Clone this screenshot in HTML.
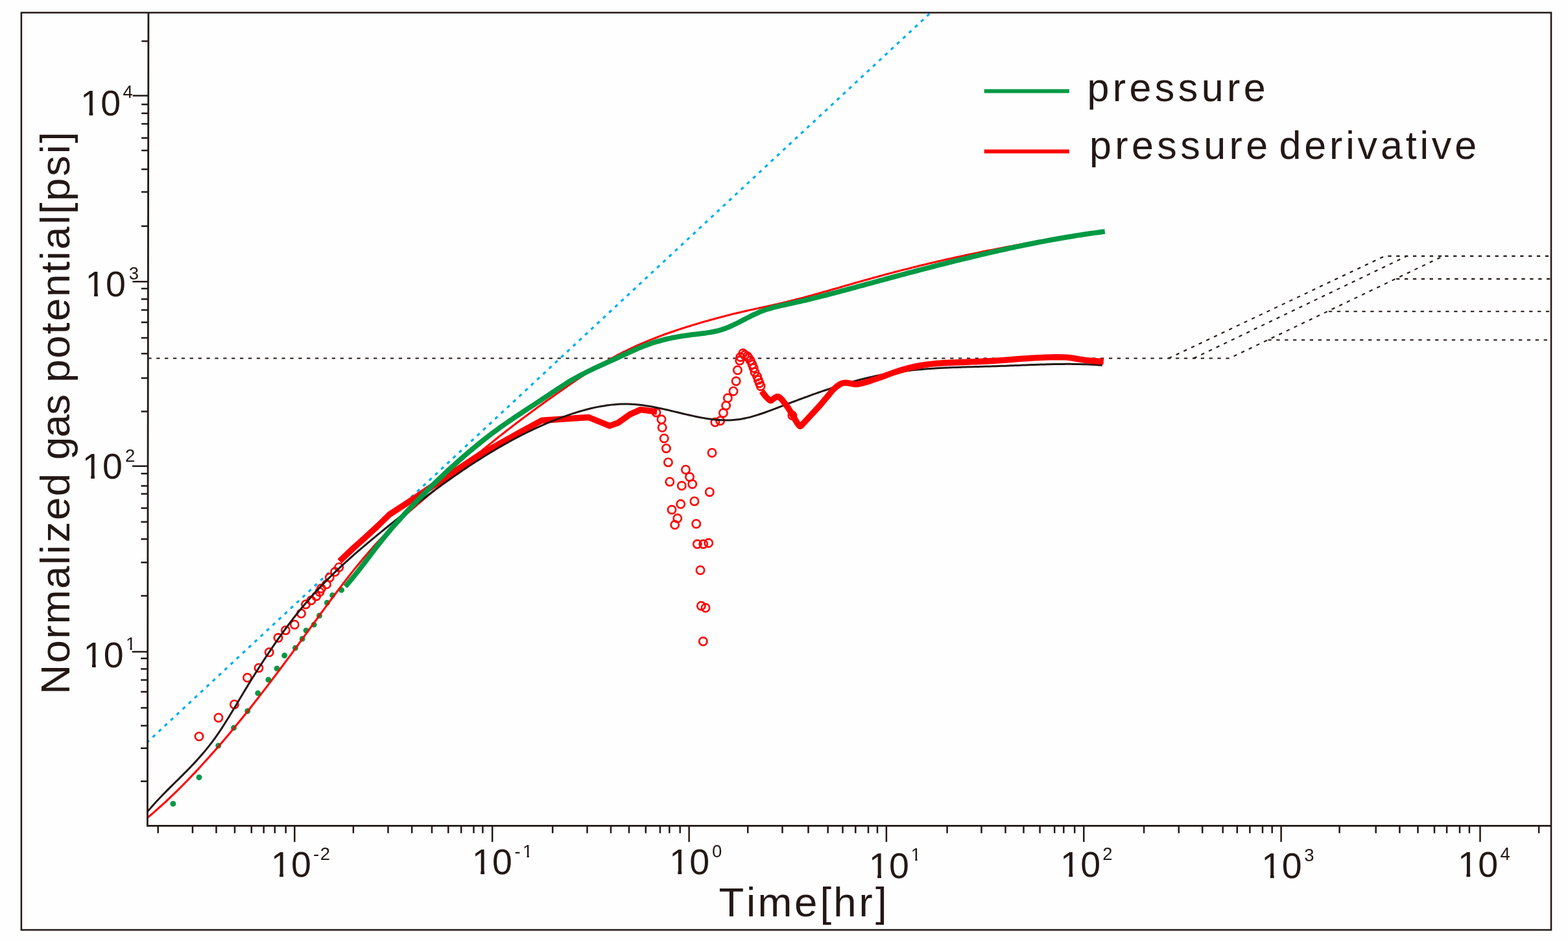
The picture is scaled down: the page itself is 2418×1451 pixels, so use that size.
<!DOCTYPE html>
<html lang="en">
<head>
<meta charset="utf-8">
<title>Normalized gas potential vs Time - pressure and pressure derivative</title>
<style>
html,body{margin:0;padding:0;background:#fefefe;}
body{width:2418px;height:1451px;overflow:hidden;}
svg{display:block;}
text{white-space:pre;}
</style>
</head>
<body>
<svg width="2418" height="1451" viewBox="0 0 2418 1451">
<rect x="0" y="0" width="2418" height="1451" fill="#fefefe"/>
<g fill="none" stroke="#00aeef" stroke-width="3.3" stroke-dasharray="5.2 7.448">
<path d="M227.3 1144.3 L518 873.11" stroke-dashoffset="1.55"/>
<path d="M631 769.53 L1434.2 20.39" stroke-dashoffset="-4.1"/>
</g>
<g fill="none" stroke="#231815" stroke-width="2.1" stroke-dasharray="5.3 7.584">
<path d="M228.3 552.5 H1895.9 L2225.4 394.9 H2388" stroke-dashoffset="0"/>
<path d="M1802.1 552.5 L2135.3 394.9 H2225" stroke-dashoffset="0"/>
<path d="M1840.8 552.5 L2169.5 394.9" stroke-dashoffset="0"/>
<path d="M2153.1 430.1 H2391" stroke-dashoffset="0"/>
<path d="M2048.9 480.2 H2391" stroke-dashoffset="0"/>
<path d="M1955.4 524.3 H2391" stroke-dashoffset="0"/>
</g>
<g fill="#009944">
<circle cx="266.9" cy="1239.4" r="4.45"/>
<circle cx="307" cy="1198.7" r="4.45"/>
<circle cx="336.7" cy="1149.9" r="4.45"/>
<circle cx="360.5" cy="1122.3" r="4.45"/>
<circle cx="381.7" cy="1096.5" r="4.45"/>
<circle cx="397.7" cy="1068.9" r="4.45"/>
<circle cx="413.9" cy="1048.2" r="4.45"/>
<circle cx="427" cy="1030.9" r="4.45"/>
<circle cx="438.7" cy="1010.8" r="4.45"/>
<circle cx="455.4" cy="999.2" r="4.45"/>
<circle cx="466.2" cy="985" r="4.45"/>
<circle cx="472" cy="972.1" r="4.45"/>
<circle cx="484.2" cy="963.2" r="4.45"/>
<circle cx="492.5" cy="949.3" r="4.45"/>
<circle cx="504.4" cy="929.5" r="4.45"/>
<circle cx="512.7" cy="917.9" r="4.45"/>
<circle cx="526.6" cy="909.8" r="4.45"/>
</g>
<g fill="none" stroke="#ff0000" stroke-width="2.6">
<circle cx="307" cy="1135.6" r="6.15"/>
<circle cx="336.9" cy="1106.7" r="6.15"/>
<circle cx="361.4" cy="1086.2" r="6.15"/>
<circle cx="381.5" cy="1045" r="6.15"/>
<circle cx="399" cy="1029.9" r="6.15"/>
<circle cx="415.2" cy="1005.8" r="6.15"/>
<circle cx="429" cy="983.5" r="6.15"/>
<circle cx="440.4" cy="971.9" r="6.15"/>
<circle cx="454.3" cy="963.2" r="6.15"/>
<circle cx="464.5" cy="946.1" r="6.15"/>
<circle cx="471.5" cy="932" r="6.15"/>
<circle cx="479.9" cy="925.8" r="6.15"/>
<circle cx="487.7" cy="919.4" r="6.15"/>
<circle cx="492.9" cy="912.7" r="6.15"/>
<circle cx="495.4" cy="907.5" r="6.15"/>
<circle cx="503.5" cy="901.1" r="6.15"/>
<circle cx="508.3" cy="890.5" r="6.15"/>
<circle cx="516.6" cy="881.8" r="6.15"/>
<circle cx="522.8" cy="874.7" r="6.15"/>
<circle cx="1012" cy="636" r="6.15"/>
<circle cx="1020" cy="646.8" r="6.15"/>
<circle cx="1021.2" cy="659.2" r="6.15"/>
<circle cx="1024.2" cy="676" r="6.15"/>
<circle cx="1027.4" cy="691.4" r="6.15"/>
<circle cx="1030.4" cy="712.9" r="6.15"/>
<circle cx="1032.8" cy="742.9" r="6.15"/>
<circle cx="1036" cy="786" r="6.15"/>
<circle cx="1044.7" cy="799.3" r="6.15"/>
<circle cx="1040.7" cy="809.3" r="6.15"/>
<circle cx="1049.7" cy="777.3" r="6.15"/>
<circle cx="1051.3" cy="749" r="6.15"/>
<circle cx="1057.4" cy="724.2" r="6.15"/>
<circle cx="1063.5" cy="735.5" r="6.15"/>
<circle cx="1067.7" cy="746.5" r="6.15"/>
<circle cx="1070.9" cy="772.9" r="6.15"/>
<circle cx="1073.7" cy="807.7" r="6.15"/>
<circle cx="1075.3" cy="839" r="6.15"/>
<circle cx="1084.7" cy="839" r="6.15"/>
<circle cx="1092.7" cy="837.3" r="6.15"/>
<circle cx="1080" cy="879.3" r="6.15"/>
<circle cx="1081.3" cy="934.3" r="6.15"/>
<circle cx="1088" cy="937.3" r="6.15"/>
<circle cx="1084.3" cy="989" r="6.15"/>
<circle cx="1094.3" cy="758.7" r="6.15"/>
<circle cx="1098" cy="698.2" r="6.15"/>
<circle cx="1102.8" cy="651.1" r="6.15"/>
<circle cx="1110.6" cy="648.9" r="6.15"/>
<circle cx="1115.4" cy="636.8" r="6.15"/>
<circle cx="1119.6" cy="625.4" r="6.15"/>
<circle cx="1122.3" cy="613.8" r="6.15"/>
<circle cx="1131" cy="603.2" r="6.15"/>
<circle cx="1135.1" cy="587.8" r="6.15"/>
<circle cx="1137.4" cy="570.8" r="6.15"/>
<circle cx="1140.8" cy="556" r="6.15"/>
<circle cx="1141.8" cy="550.6" r="6.15"/>
<circle cx="1145.7" cy="544.8" r="6.15"/>
<circle cx="1148.6" cy="547.3" r="6.15"/>
<circle cx="1152.4" cy="549.2" r="6.15"/>
<circle cx="1154.3" cy="551.7" r="6.15"/>
<circle cx="1157.2" cy="556" r="6.15"/>
<circle cx="1160.1" cy="562.1" r="6.15"/>
<circle cx="1162.1" cy="567.5" r="6.15"/>
<circle cx="1164" cy="573.9" r="6.15"/>
<circle cx="1167.5" cy="580.6" r="6.15"/>
<circle cx="1169.4" cy="585.9" r="6.15"/>
<circle cx="1171.3" cy="590.7" r="6.15"/>
<circle cx="1173.1" cy="595.5" r="6.15"/>
<circle cx="1221.9" cy="640.8" r="6.15"/>
</g>
<path d="M227.3 1261.04 C228.13 1260.34 230.63 1258.26 232.29 1256.84 C233.96 1255.43 235.62 1254.01 237.28 1252.57 C238.95 1251.12 240.61 1249.67 242.28 1248.2 C243.94 1246.73 245.6 1245.25 247.27 1243.75 C248.93 1242.26 250.6 1240.74 252.26 1239.22 C253.93 1237.7 255.59 1236.16 257.25 1234.61 C258.92 1233.05 260.58 1231.49 262.25 1229.91 C263.91 1228.33 265.57 1226.74 267.24 1225.14 C268.9 1223.53 270.57 1221.92 272.23 1220.29 C273.89 1218.66 275.56 1217.01 277.22 1215.36 C278.89 1213.7 280.55 1212.03 282.21 1210.35 C283.88 1208.67 285.54 1206.98 287.21 1205.28 C288.87 1203.57 290.53 1201.85 292.2 1200.13 C293.86 1198.4 295.53 1196.66 297.19 1194.9 C298.85 1193.15 300.52 1191.39 302.18 1189.61 C303.85 1187.84 305.51 1186.05 307.18 1184.25 C308.84 1182.45 310.5 1180.64 312.17 1178.82 C313.83 1177 315.5 1175.17 317.16 1173.33 C318.82 1171.49 320.49 1169.63 322.15 1167.77 C323.82 1165.91 325.48 1164.03 327.14 1162.15 C328.81 1160.26 330.47 1158.37 332.14 1156.46 C333.8 1154.56 335.46 1152.64 337.13 1150.72 C338.79 1148.79 340.46 1146.86 342.12 1144.91 C343.78 1142.97 345.45 1141.01 347.11 1139.05 C348.78 1137.08 350.44 1135.11 352.11 1133.13 C353.77 1131.15 355.43 1129.15 357.1 1127.15 C358.76 1125.15 360.43 1123.14 362.09 1121.12 C363.75 1119.1 365.42 1117.08 367.08 1115.04 C368.75 1113 370.41 1110.96 372.07 1108.9 C373.74 1106.85 375.4 1104.79 377.07 1102.72 C378.73 1100.65 380.39 1098.57 382.06 1096.49 C383.72 1094.4 385.39 1092.31 387.05 1090.2 C388.71 1088.1 390.38 1085.99 392.04 1083.88 C393.71 1081.76 395.37 1079.63 397.03 1077.5 C398.7 1075.37 400.36 1073.23 402.03 1071.09 C403.69 1068.94 405.36 1066.79 407.02 1064.63 C408.68 1062.47 410.35 1060.3 412.01 1058.13 C413.68 1055.95 415.34 1053.77 417 1051.59 C418.67 1049.4 420.33 1047.21 422 1045.01 C423.66 1042.81 425.32 1040.6 426.99 1038.39 C428.65 1036.18 430.32 1033.96 431.98 1031.74 C433.64 1029.52 435.31 1027.29 436.97 1025.05 C438.64 1022.82 440.3 1020.58 441.96 1018.33 C443.63 1016.09 445.29 1013.84 446.96 1011.58 C448.62 1009.33 450.29 1007.07 451.95 1004.8 C453.61 1002.54 455.28 1000.26 456.94 997.99 C458.61 995.71 460.27 993.43 461.93 991.15 C463.6 988.87 465.26 986.58 466.93 984.3 C468.59 982.01 470.25 979.72 471.92 977.42 C473.58 975.13 475.25 972.84 476.91 970.55 C478.57 968.26 480.24 965.96 481.9 963.67 C483.57 961.38 485.23 959.09 486.89 956.8 C488.56 954.51 490.22 952.23 491.89 949.95 C493.55 947.66 495.21 945.39 496.88 943.11 C498.54 940.84 500.21 938.57 501.87 936.3 C503.54 934.04 505.2 931.78 506.86 929.53 C508.53 927.28 510.19 925.04 511.86 922.8 C513.52 920.56 515.18 918.33 516.85 916.12 C518.51 913.9 520.18 911.69 521.84 909.49 C523.5 907.29 525.17 905.1 526.83 902.92 C528.5 900.74 530.16 898.57 531.82 896.42 C533.49 894.26 535.15 892.12 536.82 889.99 C538.48 887.86 540.14 885.75 541.81 883.65 C543.47 881.55 545.14 879.46 546.8 877.39 C548.47 875.32 550.13 873.27 551.79 871.23 C553.46 869.2 555.12 867.18 556.79 865.17 C558.45 863.17 560.11 861.19 561.78 859.22 C563.44 857.26 565.11 855.31 566.77 853.39 C568.43 851.47 570.1 849.56 571.76 847.68 C573.43 845.8 575.09 843.93 576.75 842.1 C578.42 840.26 580.08 838.44 581.75 836.65 C583.41 834.86 585.07 833.09 586.74 831.34 C588.4 829.59 590.07 827.86 591.73 826.16 C593.39 824.45 595.06 822.77 596.72 821.1 C598.39 819.43 600.05 817.79 601.72 816.16 C603.38 814.53 605.04 812.91 606.71 811.32 C608.37 809.72 610.04 808.14 611.7 806.58 C613.36 805.02 615.03 803.47 616.69 801.93 C618.36 800.4 620.02 798.88 621.68 797.37 C623.35 795.86 625.01 794.36 626.68 792.88 C628.34 791.4 630 789.92 631.67 788.46 C633.33 787 635 785.54 636.66 784.1 C638.32 782.65 639.99 781.22 641.65 779.79 C643.32 778.36 644.98 776.94 646.65 775.53 C648.31 774.11 649.97 772.71 651.64 771.3 C653.3 769.9 654.97 768.5 656.63 767.11 C658.29 765.71 659.96 764.32 661.62 762.93 C663.29 761.54 664.95 760.16 666.61 758.77 C668.28 757.38 669.94 756 671.61 754.61 C673.27 753.23 674.93 751.84 676.6 750.46 C678.26 749.07 679.93 747.68 681.59 746.29 C683.25 744.9 684.92 743.51 686.58 742.11 C688.25 740.72 689.91 739.32 691.57 737.92 C693.24 736.52 694.9 735.12 696.57 733.72 C698.23 732.32 699.9 730.92 701.56 729.52 C703.22 728.12 704.89 726.72 706.55 725.32 C708.22 723.92 709.88 722.51 711.54 721.11 C713.21 719.71 714.87 718.31 716.54 716.92 C718.2 715.52 719.86 714.12 721.53 712.72 C723.19 711.33 724.86 709.93 726.52 708.54 C728.18 707.15 729.85 705.76 731.51 704.37 C733.18 702.99 734.84 701.6 736.5 700.22 C738.17 698.84 739.83 697.46 741.5 696.09 C743.16 694.71 744.83 693.34 746.49 691.98 C748.15 690.61 749.82 689.25 751.48 687.89 C753.15 686.53 754.81 685.18 756.47 683.83 C758.14 682.48 759.8 681.14 761.47 679.81 C763.13 678.47 764.79 677.14 766.46 675.81 C768.12 674.49 769.79 673.17 771.45 671.85 C773.11 670.54 774.78 669.23 776.44 667.92 C778.11 666.62 779.77 665.32 781.43 664.02 C783.1 662.73 784.76 661.44 786.43 660.16 C788.09 658.87 789.75 657.59 791.42 656.32 C793.08 655.04 794.75 653.77 796.41 652.51 C798.08 651.24 799.74 649.98 801.4 648.73 C803.07 647.47 804.73 646.22 806.4 644.97 C808.06 643.72 809.72 642.48 811.39 641.24 C813.05 640 814.72 638.76 816.38 637.53 C818.04 636.3 819.71 635.08 821.37 633.85 C823.04 632.63 824.7 631.41 826.36 630.19 C828.03 628.98 829.69 627.77 831.36 626.56 C833.02 625.35 834.68 624.14 836.35 622.94 C838.01 621.74 839.68 620.54 841.34 619.35 C843.01 618.15 844.67 616.96 846.33 615.77 C848 614.58 849.66 613.39 851.33 612.21 C852.99 611.03 854.65 609.85 856.32 608.67 C857.98 607.49 859.65 606.32 861.31 605.15 C862.97 603.98 864.64 602.81 866.3 601.64 C867.97 600.47 869.63 599.31 871.29 598.15 C872.96 596.99 874.62 595.83 876.29 594.68 C877.95 593.52 879.61 592.37 881.28 591.23 C882.94 590.09 884.61 588.95 886.27 587.81 C887.93 586.68 889.6 585.55 891.26 584.43 C892.93 583.31 894.59 582.2 896.26 581.09 C897.92 579.98 899.58 578.88 901.25 577.79 C902.91 576.7 904.58 575.61 906.24 574.54 C907.9 573.46 909.57 572.4 911.23 571.34 C912.9 570.28 914.56 569.23 916.22 568.2 C917.89 567.16 919.55 566.13 921.22 565.12 C922.88 564.1 924.54 563.1 926.21 562.1 C927.87 561.11 929.54 560.13 931.2 559.16 C932.86 558.19 934.53 557.23 936.19 556.29 C937.86 555.34 939.52 554.41 941.19 553.49 C942.85 552.57 944.51 551.66 946.18 550.76 C947.84 549.86 949.51 548.98 951.17 548.1 C952.83 547.23 954.5 546.36 956.16 545.51 C957.83 544.66 959.49 543.82 961.15 542.99 C962.82 542.15 964.48 541.33 966.15 540.52 C967.81 539.71 969.47 538.91 971.14 538.12 C972.8 537.33 974.47 536.55 976.13 535.78 C977.79 535.01 979.46 534.25 981.12 533.5 C982.79 532.75 984.45 532.01 986.11 531.27 C987.78 530.54 989.44 529.82 991.11 529.1 C992.77 528.39 994.44 527.68 996.1 526.99 C997.76 526.29 999.43 525.6 1001.09 524.92 C1002.76 524.24 1004.42 523.57 1006.08 522.91 C1007.75 522.25 1009.41 521.59 1011.08 520.94 C1012.74 520.29 1014.4 519.66 1016.07 519.02 C1017.73 518.39 1019.4 517.77 1021.06 517.15 C1022.72 516.53 1024.39 515.92 1026.05 515.32 C1027.72 514.71 1029.38 514.12 1031.04 513.53 C1032.71 512.94 1034.37 512.35 1036.04 511.78 C1037.7 511.2 1039.37 510.63 1041.03 510.07 C1042.69 509.5 1044.36 508.94 1046.02 508.39 C1047.69 507.84 1049.35 507.29 1051.01 506.75 C1052.68 506.21 1054.34 505.67 1056.01 505.14 C1057.67 504.61 1059.33 504.09 1061 503.57 C1062.66 503.05 1064.33 502.53 1065.99 502.02 C1067.65 501.51 1069.32 501 1070.98 500.5 C1072.65 500 1074.31 499.5 1075.97 499.01 C1077.64 498.52 1079.3 498.03 1080.97 497.54 C1082.63 497.06 1084.29 496.57 1085.96 496.1 C1087.62 495.62 1089.29 495.14 1090.95 494.67 C1092.62 494.2 1094.28 493.74 1095.94 493.27 C1097.61 492.81 1099.27 492.35 1100.94 491.89 C1102.6 491.44 1104.26 490.99 1105.93 490.54 C1107.59 490.09 1109.26 489.64 1110.92 489.2 C1112.58 488.76 1114.25 488.33 1115.91 487.89 C1117.58 487.46 1119.24 487.03 1120.9 486.6 C1122.57 486.18 1124.23 485.76 1125.9 485.34 C1127.56 484.92 1129.22 484.51 1130.89 484.1 C1132.55 483.69 1134.22 483.28 1135.88 482.88 C1137.55 482.48 1139.21 482.08 1140.87 481.69 C1142.54 481.29 1144.2 480.9 1145.87 480.52 C1147.53 480.13 1149.19 479.75 1150.86 479.37 C1152.52 479 1154.19 478.62 1155.85 478.25 C1157.51 477.89 1159.18 477.52 1160.84 477.16 C1162.51 476.8 1164.17 476.44 1165.83 476.09 C1167.5 475.73 1169.16 475.38 1170.83 475.03 C1172.49 474.67 1174.15 474.32 1175.82 473.97 C1177.48 473.62 1179.15 473.27 1180.81 472.91 C1182.47 472.55 1184.14 472.2 1185.8 471.83 C1187.47 471.47 1189.13 471.11 1190.8 470.74 C1192.46 470.37 1194.12 469.99 1195.79 469.61 C1197.45 469.23 1199.12 468.85 1200.78 468.46 C1202.44 468.07 1204.11 467.68 1205.77 467.28 C1207.44 466.88 1209.1 466.48 1210.76 466.08 C1212.43 465.67 1214.09 465.26 1215.76 464.85 C1217.42 464.44 1219.08 464.02 1220.75 463.6 C1222.41 463.18 1224.08 462.75 1225.74 462.33 C1227.4 461.9 1229.07 461.47 1230.73 461.03 C1232.4 460.6 1234.06 460.16 1235.73 459.72 C1237.39 459.28 1239.05 458.84 1240.72 458.39 C1242.38 457.94 1244.05 457.49 1245.71 457.04 C1247.37 456.59 1249.04 456.14 1250.7 455.68 C1252.37 455.22 1254.03 454.77 1255.69 454.3 C1257.36 453.84 1259.02 453.38 1260.69 452.92 C1262.35 452.45 1264.01 451.99 1265.68 451.52 C1267.34 451.05 1269.01 450.58 1270.67 450.11 C1272.33 449.64 1274 449.17 1275.66 448.69 C1277.33 448.22 1278.99 447.74 1280.65 447.27 C1282.32 446.79 1283.98 446.32 1285.65 445.84 C1287.31 445.36 1288.98 444.88 1290.64 444.41 C1292.3 443.93 1293.97 443.45 1295.63 442.97 C1297.3 442.49 1298.96 442.01 1300.62 441.53 C1302.29 441.05 1303.95 440.57 1305.62 440.09 C1307.28 439.62 1308.94 439.14 1310.61 438.66 C1312.27 438.18 1313.94 437.7 1315.6 437.23 C1317.26 436.75 1318.93 436.27 1320.59 435.8 C1322.26 435.32 1323.92 434.85 1325.58 434.37 C1327.25 433.9 1328.91 433.43 1330.58 432.95 C1332.24 432.48 1333.91 432.01 1335.57 431.55 C1337.23 431.08 1338.9 430.61 1340.56 430.15 C1342.23 429.68 1343.89 429.22 1345.55 428.76 C1347.22 428.3 1348.88 427.84 1350.55 427.38 C1352.21 426.92 1353.87 426.47 1355.54 426.01 C1357.2 425.56 1358.87 425.11 1360.53 424.66 C1362.19 424.21 1363.86 423.76 1365.52 423.31 C1367.19 422.87 1368.85 422.42 1370.51 421.98 C1372.18 421.53 1373.84 421.09 1375.51 420.65 C1377.17 420.22 1378.83 419.78 1380.5 419.34 C1382.16 418.91 1383.83 418.47 1385.49 418.04 C1387.16 417.61 1388.82 417.18 1390.48 416.75 C1392.15 416.32 1393.81 415.9 1395.48 415.47 C1397.14 415.05 1398.8 414.62 1400.47 414.2 C1402.13 413.78 1403.8 413.36 1405.46 412.95 C1407.12 412.53 1408.79 412.12 1410.45 411.7 C1412.12 411.29 1413.78 410.88 1415.44 410.47 C1417.11 410.06 1418.77 409.65 1420.44 409.24 C1422.1 408.84 1423.76 408.43 1425.43 408.03 C1427.09 407.63 1428.76 407.23 1430.42 406.83 C1432.09 406.43 1433.75 406.04 1435.41 405.64 C1437.08 405.25 1438.74 404.86 1440.41 404.47 C1442.07 404.07 1443.73 403.69 1445.4 403.3 C1447.06 402.91 1448.73 402.53 1450.39 402.14 C1452.05 401.76 1453.72 401.38 1455.38 401 C1457.05 400.62 1458.71 400.24 1460.37 399.87 C1462.04 399.49 1463.7 399.12 1465.37 398.75 C1467.03 398.38 1468.69 398.01 1470.36 397.64 C1472.02 397.27 1473.69 396.91 1475.35 396.54 C1477.01 396.18 1478.68 395.81 1480.34 395.45 C1482.01 395.09 1483.67 394.74 1485.34 394.38 C1487 394.02 1488.66 393.67 1490.33 393.31 C1491.99 392.96 1493.66 392.61 1495.32 392.26 C1496.98 391.91 1498.65 391.56 1500.31 391.21 C1501.98 390.87 1503.64 390.52 1505.3 390.18 C1506.97 389.84 1508.63 389.49 1510.3 389.15 C1511.96 388.81 1513.62 388.48 1515.29 388.14 C1516.95 387.8 1518.62 387.47 1520.28 387.13 C1521.94 386.8 1523.61 386.47 1525.27 386.14 C1526.94 385.81 1528.6 385.48 1530.27 385.15 C1531.93 384.83 1533.59 384.5 1535.26 384.18 C1536.92 383.85 1538.59 383.53 1540.25 383.21 C1541.91 382.89 1543.58 382.57 1545.24 382.25 C1546.91 381.93 1548.57 381.61 1550.23 381.3 C1551.9 380.98 1553.56 380.67 1555.23 380.35 C1556.89 380.04 1558.55 379.73 1560.22 379.42 C1561.88 379.11 1563.55 378.8 1565.21 378.49 C1566.87 378.19 1568.54 377.88 1570.2 377.58 C1571.87 377.27 1573.53 376.97 1575.19 376.67 C1576.86 376.36 1578.52 376.06 1580.19 375.76 C1581.85 375.46 1583.52 375.17 1585.18 374.87 C1586.84 374.57 1588.51 374.28 1590.17 373.98 C1591.84 373.69 1593.5 373.39 1595.16 373.1 C1596.83 372.81 1598.49 372.52 1600.16 372.23 C1601.82 371.94 1603.48 371.65 1605.15 371.36 C1606.81 371.07 1608.48 370.79 1610.14 370.5 C1611.8 370.21 1613.47 369.93 1615.13 369.65 C1616.8 369.36 1618.46 369.08 1620.12 368.8 C1621.79 368.52 1623.45 368.24 1625.12 367.96 C1626.78 367.68 1628.45 367.4 1630.11 367.12 C1631.77 366.84 1633.44 366.57 1635.1 366.29 C1636.77 366.02 1638.43 365.74 1640.09 365.47 C1641.76 365.19 1643.42 364.92 1645.09 364.65 C1646.75 364.38 1648.41 364.1 1650.08 363.83 C1651.74 363.56 1653.41 363.29 1655.07 363.03 C1656.73 362.76 1658.4 362.49 1660.06 362.22 C1661.73 361.95 1663.39 361.69 1665.05 361.42 C1666.72 361.16 1668.38 360.89 1670.05 360.63 C1671.71 360.36 1673.37 360.1 1675.04 359.84 C1676.7 359.58 1678.37 359.31 1680.03 359.05 C1681.7 358.79 1683.36 358.53 1685.02 358.27 C1686.69 358.01 1688.35 357.75 1690.02 357.49 C1691.68 357.23 1693.34 356.98 1695.01 356.72 C1696.67 356.46 1699.17 356.08 1700 355.95" fill="none" stroke="#ff0000" stroke-width="3.1" stroke-linejoin="round" stroke-linecap="butt"/>
<path d="M523.7 865.4 L544 846 L563 829 L582 811.5 L600.4 793.5 L631 773.5 L664 751.5 L700 727.5 L740 700.8 L770 684.5 L802.7 666 L835.8 648.2 L907.8 643.5 L940.1 656.7 L953.3 651.8 L971.6 638.9 L988 631.6 L1013.1 635" fill="none" stroke="#ff0000" stroke-width="9.4" stroke-linejoin="round" stroke-linecap="butt"/>
<path d="M227.3 1251.77 C228.13 1250.79 230.64 1247.81 232.31 1245.88 C233.98 1243.96 235.65 1242.07 237.32 1240.22 C238.99 1238.36 240.66 1236.54 242.33 1234.74 C244 1232.94 245.66 1231.17 247.33 1229.42 C249 1227.67 250.67 1225.95 252.34 1224.24 C254.01 1222.53 255.68 1220.84 257.35 1219.16 C259.02 1217.48 260.69 1215.82 262.36 1214.16 C264.03 1212.5 265.7 1210.86 267.37 1209.21 C269.04 1207.56 270.71 1205.93 272.38 1204.28 C274.05 1202.64 275.72 1201 277.39 1199.35 C279.05 1197.7 280.72 1196.05 282.39 1194.38 C284.06 1192.72 285.73 1191.05 287.4 1189.36 C289.07 1187.67 290.74 1185.97 292.41 1184.24 C294.08 1182.52 295.75 1180.78 297.42 1179.01 C299.09 1177.24 300.76 1175.45 302.43 1173.63 C304.1 1171.81 305.77 1169.97 307.44 1168.08 C309.11 1166.2 310.78 1164.29 312.44 1162.33 C314.11 1160.38 315.78 1158.39 317.45 1156.35 C319.12 1154.32 320.79 1152.24 322.46 1150.12 C324.13 1147.99 325.8 1145.83 327.47 1143.6 C329.14 1141.38 330.81 1139.1 332.48 1136.77 C334.15 1134.44 335.82 1132.05 337.49 1129.6 C339.16 1127.16 340.83 1124.65 342.5 1122.1 C344.17 1119.55 345.83 1116.94 347.5 1114.31 C349.17 1111.67 350.84 1108.99 352.51 1106.29 C354.18 1103.58 355.85 1100.84 357.52 1098.09 C359.19 1095.34 360.86 1092.56 362.53 1089.77 C364.2 1086.99 365.87 1084.19 367.54 1081.39 C369.21 1078.59 370.88 1075.78 372.55 1072.99 C374.22 1070.2 375.89 1067.4 377.56 1064.64 C379.22 1061.87 380.89 1059.11 382.56 1056.37 C384.23 1053.64 385.9 1050.93 387.57 1048.24 C389.24 1045.54 390.91 1042.87 392.58 1040.22 C394.25 1037.56 395.92 1034.93 397.59 1032.31 C399.26 1029.7 400.93 1027.1 402.6 1024.52 C404.27 1021.95 405.94 1019.39 407.61 1016.85 C409.28 1014.3 410.95 1011.78 412.61 1009.28 C414.28 1006.77 415.95 1004.28 417.62 1001.81 C419.29 999.34 420.96 996.88 422.63 994.45 C424.3 992.01 425.97 989.59 427.64 987.19 C429.31 984.8 430.98 982.42 432.65 980.07 C434.32 977.71 435.99 975.38 437.66 973.08 C439.33 970.78 441 968.5 442.67 966.25 C444.34 964 446 961.78 447.67 959.59 C449.34 957.4 451.01 955.23 452.68 953.1 C454.35 950.96 456.02 948.85 457.69 946.76 C459.36 944.67 461.03 942.61 462.7 940.57 C464.37 938.54 466.04 936.53 467.71 934.54 C469.38 932.55 471.05 930.59 472.72 928.64 C474.39 926.7 476.06 924.79 477.73 922.89 C479.39 920.99 481.06 919.12 482.73 917.26 C484.4 915.41 486.07 913.58 487.74 911.77 C489.41 909.95 491.08 908.16 492.75 906.39 C494.42 904.62 496.09 902.86 497.76 901.13 C499.43 899.39 501.1 897.68 502.77 895.98 C504.44 894.28 506.11 892.6 507.78 890.93 C509.45 889.27 511.12 887.62 512.78 885.99 C514.45 884.35 516.12 882.74 517.79 881.13 C519.46 879.53 521.13 877.95 522.8 876.37 C524.47 874.8 526.14 873.24 527.81 871.69 C529.48 870.15 531.15 868.61 532.82 867.09 C534.49 865.57 536.16 864.06 537.83 862.56 C539.5 861.07 541.17 859.58 542.84 858.1 C544.51 856.63 546.17 855.16 547.84 853.7 C549.51 852.25 551.18 850.8 552.85 849.36 C554.52 847.92 556.19 846.49 557.86 845.07 C559.53 843.65 561.2 842.23 562.87 840.83 C564.54 839.42 566.21 838.02 567.88 836.62 C569.55 835.23 571.22 833.84 572.89 832.45 C574.56 831.07 576.23 829.69 577.9 828.31 C579.56 826.94 581.23 825.57 582.9 824.2 C584.57 822.83 586.24 821.46 587.91 820.1 C589.58 818.74 591.25 817.38 592.92 816.02 C594.59 814.67 596.26 813.31 597.93 811.96 C599.6 810.62 601.27 809.27 602.94 807.92 C604.61 806.58 606.28 805.24 607.95 803.9 C609.62 802.57 611.29 801.23 612.95 799.91 C614.62 798.58 616.29 797.25 617.96 795.93 C619.63 794.61 621.3 793.29 622.97 791.97 C624.64 790.66 626.31 789.35 627.98 788.04 C629.65 786.74 631.32 785.43 632.99 784.13 C634.66 782.84 636.33 781.54 638 780.25 C639.67 778.96 641.34 777.68 643.01 776.4 C644.68 775.11 646.34 773.84 648.01 772.57 C649.68 771.29 651.35 770.03 653.02 768.76 C654.69 767.5 656.36 766.24 658.03 764.99 C659.7 763.74 661.37 762.49 663.04 761.24 C664.71 760 666.38 758.76 668.05 757.53 C669.72 756.3 671.39 755.07 673.06 753.85 C674.73 752.62 676.4 751.4 678.07 750.19 C679.73 748.98 681.4 747.77 683.07 746.57 C684.74 745.37 686.41 744.17 688.08 742.98 C689.75 741.79 691.42 740.61 693.09 739.43 C694.76 738.25 696.43 737.08 698.1 735.91 C699.77 734.75 701.44 733.59 703.11 732.43 C704.78 731.28 706.45 730.13 708.12 728.98 C709.79 727.84 711.46 726.7 713.12 725.57 C714.79 724.44 716.46 723.32 718.13 722.2 C719.8 721.09 721.47 719.98 723.14 718.87 C724.81 717.77 726.48 716.67 728.15 715.58 C729.82 714.49 731.49 713.4 733.16 712.33 C734.83 711.25 736.5 710.18 738.17 709.12 C739.84 708.05 741.51 707 743.18 705.95 C744.85 704.9 746.51 703.86 748.18 702.82 C749.85 701.79 751.52 700.76 753.19 699.74 C754.86 698.72 756.53 697.71 758.2 696.7 C759.87 695.7 761.54 694.7 763.21 693.71 C764.88 692.72 766.55 691.74 768.22 690.77 C769.89 689.79 771.56 688.83 773.23 687.87 C774.9 686.91 776.57 685.96 778.24 685.02 C779.9 684.08 781.57 683.14 783.24 682.22 C784.91 681.29 786.58 680.37 788.25 679.47 C789.92 678.56 791.59 677.66 793.26 676.76 C794.93 675.87 796.6 674.99 798.27 674.11 C799.94 673.24 801.61 672.37 803.28 671.51 C804.95 670.66 806.62 669.81 808.29 668.97 C809.96 668.13 811.63 667.3 813.29 666.48 C814.96 665.66 816.63 664.84 818.3 664.04 C819.97 663.24 821.64 662.44 823.31 661.66 C824.98 660.87 826.65 660.1 828.32 659.33 C829.99 658.56 831.66 657.81 833.33 657.06 C835 656.31 836.67 655.58 838.34 654.85 C840.01 654.12 841.68 653.4 843.35 652.69 C845.02 651.99 846.68 651.29 848.35 650.6 C850.02 649.91 851.69 649.23 853.36 648.57 C855.03 647.9 856.7 647.24 858.37 646.59 C860.04 645.95 861.71 645.31 863.38 644.68 C865.05 644.06 866.72 643.44 868.39 642.83 C870.06 642.23 871.73 641.63 873.4 641.05 C875.07 640.46 876.74 639.89 878.41 639.33 C880.07 638.76 881.74 638.21 883.41 637.67 C885.08 637.13 886.75 636.6 888.42 636.08 C890.09 635.56 891.76 635.06 893.43 634.56 C895.1 634.07 896.77 633.58 898.44 633.11 C900.11 632.64 901.78 632.19 903.45 631.74 C905.12 631.3 906.79 630.87 908.46 630.46 C910.13 630.04 911.8 629.64 913.46 629.26 C915.13 628.87 916.8 628.5 918.47 628.15 C920.14 627.79 921.81 627.45 923.48 627.13 C925.15 626.81 926.82 626.51 928.49 626.22 C930.16 625.93 931.83 625.66 933.5 625.41 C935.17 625.16 936.84 624.93 938.51 624.71 C940.18 624.5 941.85 624.3 943.52 624.13 C945.19 623.95 946.85 623.8 948.52 623.66 C950.19 623.53 951.86 623.41 953.53 623.32 C955.2 623.23 956.87 623.15 958.54 623.1 C960.21 623.05 961.88 623.02 963.55 623.02 C965.22 623.01 966.89 623.03 968.56 623.07 C970.23 623.11 971.9 623.18 973.57 623.26 C975.24 623.35 976.91 623.46 978.58 623.58 C980.25 623.71 981.91 623.86 983.58 624.03 C985.25 624.2 986.92 624.38 988.59 624.59 C990.26 624.79 991.93 625.01 993.6 625.25 C995.27 625.49 996.94 625.74 998.61 626.01 C1000.28 626.28 1001.95 626.56 1003.62 626.85 C1005.29 627.15 1006.96 627.45 1008.63 627.77 C1010.3 628.09 1011.97 628.42 1013.64 628.76 C1015.3 629.1 1016.97 629.45 1018.64 629.8 C1020.31 630.16 1021.98 630.53 1023.65 630.9 C1025.32 631.27 1026.99 631.65 1028.66 632.03 C1030.33 632.41 1032 632.8 1033.67 633.19 C1035.34 633.58 1037.01 633.98 1038.68 634.37 C1040.35 634.77 1042.02 635.17 1043.69 635.57 C1045.36 635.97 1047.03 636.37 1048.69 636.76 C1050.36 637.16 1052.03 637.56 1053.7 637.95 C1055.37 638.35 1057.04 638.74 1058.71 639.13 C1060.38 639.51 1062.05 639.9 1063.72 640.27 C1065.39 640.65 1067.06 641.02 1068.73 641.38 C1070.4 641.74 1072.07 642.1 1073.74 642.44 C1075.41 642.79 1077.08 643.12 1078.75 643.45 C1080.42 643.77 1082.08 644.08 1083.75 644.38 C1085.42 644.67 1087.09 644.96 1088.76 645.23 C1090.43 645.49 1092.1 645.75 1093.77 645.98 C1095.44 646.22 1097.11 646.44 1098.78 646.64 C1100.45 646.83 1102.12 647.02 1103.79 647.17 C1105.46 647.33 1107.13 647.47 1108.8 647.59 C1110.47 647.7 1112.14 647.79 1113.81 647.86 C1115.47 647.93 1117.14 647.97 1118.81 647.98 C1120.48 648 1122.15 647.99 1123.82 647.95 C1125.49 647.91 1127.16 647.84 1128.83 647.75 C1130.5 647.65 1132.17 647.52 1133.84 647.36 C1135.51 647.2 1137.18 647.01 1138.85 646.78 C1140.52 646.55 1142.19 646.29 1143.86 646 C1145.53 645.71 1147.2 645.38 1148.86 645.03 C1150.53 644.68 1152.2 644.3 1153.87 643.89 C1155.54 643.49 1157.21 643.06 1158.88 642.6 C1160.55 642.15 1162.22 641.67 1163.89 641.17 C1165.56 640.68 1167.23 640.16 1168.9 639.62 C1170.57 639.09 1172.24 638.54 1173.91 637.97 C1175.58 637.41 1177.25 636.82 1178.92 636.23 C1180.59 635.64 1182.25 635.04 1183.92 634.42 C1185.59 633.81 1187.26 633.19 1188.93 632.56 C1190.6 631.94 1192.27 631.3 1193.94 630.67 C1195.61 630.03 1197.28 629.39 1198.95 628.75 C1200.62 628.11 1202.29 627.47 1203.96 626.83 C1205.63 626.2 1207.3 625.56 1208.97 624.92 C1210.64 624.28 1212.31 623.65 1213.98 623.01 C1215.64 622.38 1217.31 621.75 1218.98 621.12 C1220.65 620.49 1222.32 619.86 1223.99 619.23 C1225.66 618.6 1227.33 617.98 1229 617.35 C1230.67 616.73 1232.34 616.11 1234.01 615.49 C1235.68 614.87 1237.35 614.25 1239.02 613.64 C1240.69 613.03 1242.36 612.41 1244.03 611.81 C1245.7 611.2 1247.37 610.59 1249.03 609.99 C1250.7 609.39 1252.37 608.79 1254.04 608.2 C1255.71 607.6 1257.38 607.01 1259.05 606.42 C1260.72 605.84 1262.39 605.25 1264.06 604.67 C1265.73 604.09 1267.4 603.52 1269.07 602.95 C1270.74 602.38 1272.41 601.81 1274.08 601.25 C1275.75 600.69 1277.42 600.13 1279.09 599.58 C1280.76 599.02 1282.42 598.48 1284.09 597.93 C1285.76 597.39 1287.43 596.85 1289.1 596.32 C1290.77 595.79 1292.44 595.26 1294.11 594.74 C1295.78 594.22 1297.45 593.71 1299.12 593.2 C1300.79 592.69 1302.46 592.19 1304.13 591.69 C1305.8 591.19 1307.47 590.7 1309.14 590.22 C1310.81 589.73 1312.48 589.26 1314.15 588.78 C1315.81 588.31 1317.48 587.85 1319.15 587.39 C1320.82 586.94 1322.49 586.49 1324.16 586.04 C1325.83 585.6 1327.5 585.17 1329.17 584.74 C1330.84 584.31 1332.51 583.89 1334.18 583.48 C1335.85 583.07 1337.52 582.66 1339.19 582.27 C1340.86 581.87 1342.53 581.48 1344.2 581.1 C1345.87 580.72 1347.54 580.35 1349.2 579.99 C1350.87 579.63 1352.54 579.27 1354.21 578.93 C1355.88 578.58 1357.55 578.25 1359.22 577.92 C1360.89 577.6 1362.56 577.28 1364.23 576.97 C1365.9 576.66 1367.57 576.36 1369.24 576.07 C1370.91 575.78 1372.58 575.5 1374.25 575.23 C1375.92 574.95 1377.59 574.69 1379.26 574.43 C1380.93 574.17 1382.59 573.93 1384.26 573.68 C1385.93 573.44 1387.6 573.21 1389.27 572.98 C1390.94 572.76 1392.61 572.54 1394.28 572.33 C1395.95 572.12 1397.62 571.91 1399.29 571.72 C1400.96 571.52 1402.63 571.33 1404.3 571.14 C1405.97 570.96 1407.64 570.78 1409.31 570.61 C1410.98 570.44 1412.65 570.28 1414.32 570.12 C1415.98 569.96 1417.65 569.81 1419.32 569.66 C1420.99 569.51 1422.66 569.37 1424.33 569.23 C1426 569.1 1427.67 568.97 1429.34 568.84 C1431.01 568.71 1432.68 568.59 1434.35 568.48 C1436.02 568.36 1437.69 568.25 1439.36 568.14 C1441.03 568.04 1442.7 567.93 1444.37 567.83 C1446.04 567.73 1447.71 567.64 1449.37 567.55 C1451.04 567.46 1452.71 567.37 1454.38 567.29 C1456.05 567.2 1457.72 567.12 1459.39 567.05 C1461.06 566.97 1462.73 566.9 1464.4 566.82 C1466.07 566.75 1467.74 566.69 1469.41 566.62 C1471.08 566.55 1472.75 566.49 1474.42 566.43 C1476.09 566.37 1477.76 566.31 1479.43 566.25 C1481.1 566.2 1482.76 566.14 1484.43 566.09 C1486.1 566.04 1487.77 565.99 1489.44 565.93 C1491.11 565.88 1492.78 565.84 1494.45 565.79 C1496.12 565.74 1497.79 565.69 1499.46 565.65 C1501.13 565.6 1502.8 565.56 1504.47 565.51 C1506.14 565.46 1507.81 565.42 1509.48 565.38 C1511.15 565.33 1512.82 565.29 1514.49 565.24 C1516.15 565.2 1517.82 565.15 1519.49 565.11 C1521.16 565.06 1522.83 565.01 1524.5 564.97 C1526.17 564.92 1527.84 564.87 1529.51 564.82 C1531.18 564.77 1532.85 564.72 1534.52 564.67 C1536.19 564.62 1537.86 564.57 1539.53 564.51 C1541.2 564.46 1542.87 564.4 1544.54 564.34 C1546.21 564.28 1547.88 564.22 1549.54 564.16 C1551.21 564.1 1552.88 564.04 1554.55 563.98 C1556.22 563.91 1557.89 563.85 1559.56 563.79 C1561.23 563.72 1562.9 563.66 1564.57 563.59 C1566.24 563.52 1567.91 563.46 1569.58 563.39 C1571.25 563.33 1572.92 563.26 1574.59 563.19 C1576.26 563.13 1577.93 563.06 1579.6 563 C1581.27 562.93 1582.93 562.87 1584.6 562.8 C1586.27 562.74 1587.94 562.67 1589.61 562.61 C1591.28 562.55 1592.95 562.49 1594.62 562.43 C1596.29 562.37 1597.96 562.31 1599.63 562.26 C1601.3 562.2 1602.97 562.15 1604.64 562.09 C1606.31 562.04 1607.98 561.99 1609.65 561.94 C1611.32 561.89 1612.99 561.85 1614.66 561.8 C1616.32 561.76 1617.99 561.72 1619.66 561.68 C1621.33 561.64 1623 561.61 1624.67 561.58 C1626.34 561.54 1628.01 561.51 1629.68 561.49 C1631.35 561.46 1633.02 561.44 1634.69 561.42 C1636.36 561.41 1638.03 561.39 1639.7 561.38 C1641.37 561.37 1643.04 561.36 1644.71 561.36 C1646.38 561.36 1648.05 561.36 1649.71 561.37 C1651.38 561.38 1653.05 561.39 1654.72 561.41 C1656.39 561.42 1658.06 561.44 1659.73 561.47 C1661.4 561.5 1663.07 561.53 1664.74 561.57 C1666.41 561.6 1668.08 561.65 1669.75 561.7 C1671.42 561.75 1673.09 561.8 1674.76 561.86 C1676.43 561.92 1678.1 561.99 1679.77 562.06 C1681.44 562.14 1683.1 562.22 1684.77 562.3 C1686.44 562.39 1688.11 562.48 1689.78 562.58 C1691.45 562.68 1693.12 562.79 1694.79 562.9 C1696.46 563.02 1698.97 563.21 1699.8 563.27" fill="none" stroke="#231815" stroke-width="3" stroke-linejoin="round" stroke-linecap="butt"/>
<path d="M532.4 904.38 C533.23 903.44 535.74 900.64 537.41 898.7 C539.07 896.76 540.74 894.78 542.41 892.77 C544.08 890.75 545.75 888.7 547.42 886.63 C549.09 884.55 550.76 882.44 552.42 880.32 C554.09 878.19 555.76 876.04 557.43 873.88 C559.1 871.72 560.77 869.54 562.44 867.35 C564.1 865.17 565.77 862.97 567.44 860.78 C569.11 858.59 570.78 856.39 572.45 854.2 C574.12 852.01 575.79 849.82 577.45 847.65 C579.12 845.48 580.79 843.31 582.46 841.18 C584.13 839.04 585.8 836.91 587.47 834.81 C589.13 832.72 590.8 830.65 592.47 828.6 C594.14 826.55 595.81 824.53 597.48 822.53 C599.15 820.53 600.82 818.56 602.48 816.6 C604.15 814.65 605.82 812.72 607.49 810.8 C609.16 808.89 610.83 807 612.5 805.12 C614.16 803.25 615.83 801.39 617.5 799.55 C619.17 797.71 620.84 795.88 622.51 794.07 C624.18 792.26 625.85 790.46 627.51 788.68 C629.18 786.9 630.85 785.13 632.52 783.37 C634.19 781.61 635.86 779.86 637.53 778.12 C639.19 776.38 640.86 774.65 642.53 772.93 C644.2 771.2 645.87 769.49 647.54 767.79 C649.21 766.08 650.87 764.39 652.54 762.7 C654.21 761.01 655.88 759.33 657.55 757.66 C659.22 755.99 660.89 754.33 662.56 752.68 C664.22 751.03 665.89 749.39 667.56 747.76 C669.23 746.12 670.9 744.5 672.57 742.88 C674.24 741.27 675.9 739.66 677.57 738.07 C679.24 736.47 680.91 734.88 682.58 733.31 C684.25 731.73 685.92 730.16 687.59 728.61 C689.25 727.05 690.92 725.5 692.59 723.96 C694.26 722.42 695.93 720.9 697.6 719.38 C699.27 717.86 700.93 716.35 702.6 714.85 C704.27 713.35 705.94 711.86 707.61 710.39 C709.28 708.91 710.95 707.44 712.62 705.98 C714.28 704.52 715.95 703.08 717.62 701.64 C719.29 700.2 720.96 698.78 722.63 697.36 C724.3 695.95 725.96 694.54 727.63 693.15 C729.3 691.75 730.97 690.37 732.64 688.99 C734.31 687.62 735.98 686.26 737.65 684.91 C739.31 683.56 740.98 682.22 742.65 680.89 C744.32 679.56 745.99 678.24 747.66 676.93 C749.33 675.62 750.99 674.33 752.66 673.04 C754.33 671.76 756 670.49 757.67 669.22 C759.34 667.96 761.01 666.71 762.68 665.47 C764.34 664.23 766.01 663.01 767.68 661.79 C769.35 660.58 771.02 659.37 772.69 658.18 C774.36 656.99 776.02 655.81 777.69 654.63 C779.36 653.46 781.03 652.3 782.7 651.15 C784.37 649.99 786.04 648.85 787.71 647.71 C789.37 646.57 791.04 645.44 792.71 644.32 C794.38 643.2 796.05 642.08 797.72 640.96 C799.39 639.85 801.05 638.74 802.72 637.64 C804.39 636.53 806.06 635.43 807.73 634.34 C809.4 633.24 811.07 632.14 812.74 631.05 C814.4 629.95 816.07 628.86 817.74 627.76 C819.41 626.67 821.08 625.58 822.75 624.48 C824.42 623.39 826.08 622.29 827.75 621.19 C829.42 620.1 831.09 619 832.76 617.89 C834.43 616.79 836.1 615.68 837.76 614.57 C839.43 613.45 841.1 612.34 842.77 611.22 C844.44 610.1 846.11 608.98 847.78 607.87 C849.45 606.75 851.11 605.64 852.78 604.53 C854.45 603.42 856.12 602.31 857.79 601.21 C859.46 600.11 861.13 599.01 862.79 597.93 C864.46 596.84 866.13 595.76 867.8 594.7 C869.47 593.63 871.14 592.58 872.81 591.54 C874.48 590.5 876.14 589.47 877.81 588.46 C879.48 587.45 881.15 586.45 882.82 585.48 C884.49 584.5 886.16 583.54 887.82 582.6 C889.49 581.67 891.16 580.75 892.83 579.84 C894.5 578.94 896.17 578.06 897.84 577.19 C899.51 576.32 901.17 575.46 902.84 574.62 C904.51 573.78 906.18 572.95 907.85 572.13 C909.52 571.31 911.19 570.51 912.85 569.71 C914.52 568.91 916.19 568.12 917.86 567.34 C919.53 566.56 921.2 565.79 922.87 565.02 C924.54 564.25 926.2 563.49 927.87 562.73 C929.54 561.97 931.21 561.22 932.88 560.46 C934.55 559.71 936.22 558.96 937.88 558.2 C939.55 557.45 941.22 556.7 942.89 555.94 C944.56 555.19 946.23 554.43 947.9 553.67 C949.57 552.91 951.23 552.14 952.9 551.37 C954.57 550.6 956.24 549.83 957.91 549.06 C959.58 548.28 961.25 547.51 962.91 546.74 C964.58 545.97 966.25 545.2 967.92 544.43 C969.59 543.67 971.26 542.91 972.93 542.16 C974.6 541.41 976.26 540.66 977.93 539.93 C979.6 539.19 981.27 538.47 982.94 537.76 C984.61 537.05 986.28 536.34 987.94 535.66 C989.61 534.98 991.28 534.31 992.95 533.66 C994.62 533.01 996.29 532.37 997.96 531.76 C999.63 531.14 1001.29 530.55 1002.96 529.98 C1004.63 529.41 1006.3 528.86 1007.97 528.33 C1009.64 527.79 1011.31 527.28 1012.97 526.79 C1014.64 526.3 1016.31 525.82 1017.98 525.37 C1019.65 524.91 1021.32 524.47 1022.99 524.05 C1024.65 523.63 1026.32 523.22 1027.99 522.83 C1029.66 522.44 1031.33 522.07 1033 521.71 C1034.67 521.35 1036.34 521 1038 520.67 C1039.67 520.34 1041.34 520.02 1043.01 519.71 C1044.68 519.41 1046.35 519.12 1048.02 518.83 C1049.68 518.55 1051.35 518.28 1053.02 518.02 C1054.69 517.76 1056.36 517.51 1058.03 517.27 C1059.7 517.03 1061.37 516.8 1063.03 516.58 C1064.7 516.36 1066.37 516.15 1068.04 515.94 C1069.71 515.73 1071.38 515.54 1073.05 515.34 C1074.71 515.14 1076.38 514.95 1078.05 514.76 C1079.72 514.56 1081.39 514.37 1083.06 514.16 C1084.73 513.95 1086.4 513.74 1088.06 513.51 C1089.73 513.28 1091.4 513.04 1093.07 512.77 C1094.74 512.51 1096.41 512.23 1098.08 511.91 C1099.74 511.6 1101.41 511.27 1103.08 510.89 C1104.75 510.52 1106.42 510.12 1108.09 509.68 C1109.76 509.24 1111.43 508.76 1113.09 508.24 C1114.76 507.71 1116.43 507.14 1118.1 506.53 C1119.77 505.92 1121.44 505.27 1123.11 504.58 C1124.77 503.9 1126.44 503.17 1128.11 502.42 C1129.78 501.67 1131.45 500.89 1133.12 500.09 C1134.79 499.29 1136.46 498.47 1138.12 497.63 C1139.79 496.79 1141.46 495.93 1143.13 495.07 C1144.8 494.21 1146.47 493.33 1148.14 492.46 C1149.8 491.58 1151.47 490.7 1153.14 489.84 C1154.81 488.98 1156.48 488.12 1158.15 487.28 C1159.82 486.45 1161.49 485.63 1163.15 484.85 C1164.82 484.06 1166.49 483.3 1168.16 482.57 C1169.83 481.84 1171.5 481.14 1173.17 480.47 C1174.83 479.81 1176.5 479.18 1178.17 478.59 C1179.84 477.99 1181.51 477.43 1183.18 476.9 C1184.85 476.36 1186.52 475.86 1188.18 475.38 C1189.85 474.89 1191.52 474.44 1193.19 474 C1194.86 473.56 1196.53 473.14 1198.2 472.73 C1199.86 472.32 1201.53 471.94 1203.2 471.55 C1204.87 471.17 1206.54 470.8 1208.21 470.44 C1209.88 470.07 1211.55 469.71 1213.21 469.35 C1214.88 468.99 1216.55 468.64 1218.22 468.27 C1219.89 467.91 1221.56 467.55 1223.23 467.18 C1224.89 466.81 1226.56 466.44 1228.23 466.06 C1229.9 465.68 1231.57 465.3 1233.24 464.92 C1234.91 464.54 1236.57 464.15 1238.24 463.76 C1239.91 463.37 1241.58 462.97 1243.25 462.58 C1244.92 462.18 1246.59 461.78 1248.26 461.38 C1249.92 460.97 1251.59 460.57 1253.26 460.16 C1254.93 459.75 1256.6 459.34 1258.27 458.93 C1259.94 458.51 1261.6 458.09 1263.27 457.68 C1264.94 457.26 1266.61 456.83 1268.28 456.41 C1269.95 455.99 1271.62 455.56 1273.29 455.13 C1274.95 454.7 1276.62 454.27 1278.29 453.84 C1279.96 453.41 1281.63 452.98 1283.3 452.54 C1284.97 452.1 1286.63 451.67 1288.3 451.23 C1289.97 450.79 1291.64 450.35 1293.31 449.91 C1294.98 449.46 1296.65 449.02 1298.32 448.57 C1299.98 448.13 1301.65 447.68 1303.32 447.24 C1304.99 446.79 1306.66 446.34 1308.33 445.89 C1310 445.44 1311.66 444.99 1313.33 444.54 C1315 444.09 1316.67 443.64 1318.34 443.19 C1320.01 442.74 1321.68 442.29 1323.35 441.83 C1325.01 441.38 1326.68 440.93 1328.35 440.48 C1330.02 440.02 1331.69 439.57 1333.36 439.12 C1335.03 438.66 1336.69 438.21 1338.36 437.76 C1340.03 437.3 1341.7 436.85 1343.37 436.4 C1345.04 435.94 1346.71 435.49 1348.38 435.04 C1350.04 434.59 1351.71 434.14 1353.38 433.68 C1355.05 433.23 1356.72 432.78 1358.39 432.33 C1360.06 431.88 1361.72 431.43 1363.39 430.98 C1365.06 430.53 1366.73 430.08 1368.4 429.63 C1370.07 429.18 1371.74 428.73 1373.41 428.28 C1375.07 427.83 1376.74 427.39 1378.41 426.94 C1380.08 426.49 1381.75 426.04 1383.42 425.6 C1385.09 425.15 1386.75 424.71 1388.42 424.26 C1390.09 423.82 1391.76 423.37 1393.43 422.93 C1395.1 422.48 1396.77 422.04 1398.44 421.6 C1400.1 421.15 1401.77 420.71 1403.44 420.27 C1405.11 419.83 1406.78 419.39 1408.45 418.95 C1410.12 418.51 1411.78 418.07 1413.45 417.63 C1415.12 417.19 1416.79 416.75 1418.46 416.32 C1420.13 415.88 1421.8 415.44 1423.46 415.01 C1425.13 414.57 1426.8 414.14 1428.47 413.71 C1430.14 413.27 1431.81 412.84 1433.48 412.41 C1435.15 411.98 1436.81 411.55 1438.48 411.12 C1440.15 410.69 1441.82 410.26 1443.49 409.83 C1445.16 409.4 1446.83 408.97 1448.49 408.55 C1450.16 408.12 1451.83 407.7 1453.5 407.27 C1455.17 406.85 1456.84 406.43 1458.51 406.01 C1460.18 405.59 1461.84 405.17 1463.51 404.75 C1465.18 404.33 1466.85 403.91 1468.52 403.49 C1470.19 403.08 1471.86 402.66 1473.52 402.25 C1475.19 401.83 1476.86 401.42 1478.53 401.01 C1480.2 400.59 1481.87 400.18 1483.54 399.78 C1485.21 399.37 1486.87 398.96 1488.54 398.55 C1490.21 398.15 1491.88 397.74 1493.55 397.34 C1495.22 396.93 1496.89 396.53 1498.55 396.13 C1500.22 395.73 1501.89 395.33 1503.56 394.93 C1505.23 394.53 1506.9 394.14 1508.57 393.74 C1510.24 393.35 1511.9 392.96 1513.57 392.56 C1515.24 392.17 1516.91 391.78 1518.58 391.39 C1520.25 391.01 1521.92 390.62 1523.58 390.23 C1525.25 389.85 1526.92 389.46 1528.59 389.08 C1530.26 388.7 1531.93 388.32 1533.6 387.94 C1535.27 387.56 1536.93 387.19 1538.6 386.81 C1540.27 386.44 1541.94 386.06 1543.61 385.69 C1545.28 385.32 1546.95 384.95 1548.61 384.59 C1550.28 384.22 1551.95 383.85 1553.62 383.49 C1555.29 383.12 1556.96 382.76 1558.63 382.4 C1560.3 382.04 1561.96 381.69 1563.63 381.33 C1565.3 380.97 1566.97 380.62 1568.64 380.27 C1570.31 379.92 1571.98 379.57 1573.64 379.22 C1575.31 378.87 1576.98 378.52 1578.65 378.18 C1580.32 377.84 1581.99 377.5 1583.66 377.16 C1585.33 376.82 1586.99 376.48 1588.66 376.14 C1590.33 375.81 1592 375.48 1593.67 375.15 C1595.34 374.81 1597.01 374.49 1598.67 374.16 C1600.34 373.83 1602.01 373.51 1603.68 373.19 C1605.35 372.87 1607.02 372.55 1608.69 372.23 C1610.35 371.91 1612.02 371.6 1613.69 371.29 C1615.36 370.98 1617.03 370.67 1618.7 370.36 C1620.37 370.05 1622.04 369.75 1623.7 369.44 C1625.37 369.14 1627.04 368.84 1628.71 368.54 C1630.38 368.25 1632.05 367.95 1633.72 367.66 C1635.38 367.37 1637.05 367.08 1638.72 366.79 C1640.39 366.5 1642.06 366.22 1643.73 365.94 C1645.4 365.66 1647.07 365.38 1648.73 365.1 C1650.4 364.82 1652.07 364.55 1653.74 364.28 C1655.41 364.01 1657.08 363.74 1658.75 363.47 C1660.41 363.21 1662.08 362.94 1663.75 362.68 C1665.42 362.42 1667.09 362.17 1668.76 361.91 C1670.43 361.66 1672.1 361.41 1673.76 361.16 C1675.43 360.91 1677.1 360.66 1678.77 360.42 C1680.44 360.18 1682.11 359.94 1683.78 359.7 C1685.44 359.46 1687.11 359.23 1688.78 359 C1690.45 358.77 1692.12 358.54 1693.79 358.31 C1695.46 358.09 1697.13 357.87 1698.79 357.65 C1700.46 357.43 1702.97 357.11 1703.8 357" fill="none" stroke="#009944" stroke-width="7.8" stroke-linejoin="round" stroke-linecap="butt"/>
<path d="M1174.6 603.2 C1175.73 604.65 1179.15 609.48 1181.4 611.9 C1183.65 614.32 1186.18 617.22 1188.1 617.7 C1190.02 618.18 1191.13 615.83 1192.9 614.8 C1194.67 613.77 1196.77 611.5 1198.7 611.5 C1200.63 611.5 1202.25 612.65 1204.5 614.8 C1206.75 616.95 1209.63 620.87 1212.2 624.4 C1214.77 627.93 1217.32 631.82 1219.9 636 C1222.48 640.18 1225.43 645.97 1227.7 649.5 C1229.97 653.03 1231.58 656.72 1233.5 657.2 C1235.42 657.68 1236.32 655.28 1239.2 652.4 C1242.08 649.52 1246.93 644.08 1250.8 639.9 C1254.67 635.72 1258.53 631.65 1262.4 627.3 C1266.27 622.95 1270.15 618.3 1274 613.8 C1277.85 609.3 1281.97 603.83 1285.5 600.3 C1289.03 596.77 1292.3 594.27 1295.2 592.6 C1298.1 590.93 1300.33 590.55 1302.9 590.3 C1305.47 590.05 1307.7 590.72 1310.6 591.1 C1313.5 591.48 1316.75 592.73 1320.3 592.6 C1323.85 592.47 1328.05 591.27 1331.9 590.3 C1335.75 589.33 1338.72 588.35 1343.4 586.8 C1348.08 585.25 1353.9 583.15 1360 581 C1366.1 578.85 1373.33 576.08 1380 573.9 C1386.67 571.72 1393.33 569.63 1400 567.9 C1406.67 566.17 1413.33 564.67 1420 563.5 C1426.67 562.33 1433.33 561.57 1440 560.9 C1446.67 560.23 1450 560 1460 559.5 C1470 559 1486.67 558.5 1500 557.9 C1513.33 557.3 1526.67 556.73 1540 555.9 C1553.33 555.07 1566.67 553.73 1580 552.9 C1593.33 552.07 1610 551.23 1620 550.9 C1630 550.57 1634.67 550.73 1640 550.9 C1645.33 551.07 1647 551.23 1652 551.9 C1657 552.57 1664.67 554.17 1670 554.9 C1675.33 555.63 1678.7 555.87 1684 556.3 C1689.3 556.73 1698.83 557.3 1701.8 557.5" fill="none" stroke="#ff0000" stroke-width="9.4" stroke-linejoin="round" stroke-linecap="butt"/>
<g fill="none" stroke="#231815" stroke-width="2.8">
<rect x="32.9" y="19.5" width="2359.1" height="1414.4" stroke-width="2.5"/>
<path d="M228.9 19.5 L227.4 1273.3 L2392 1273.3"/>
<path d="M228.75 147.6H204.75M228.4 434.3H204.4M228.06 718.7H204.06M227.72 1004.9H203.72M228.85 63.6H218.35M228.73 160.9H218.23M228.71 174.8H218.21M228.69 190.9H218.19M228.67 212.7H218.17M228.65 232.1H218.15M228.61 260.9H218.11M228.57 296H218.07M228.51 348.8H218.01M228.39 444.9H217.89M228.37 461.2H217.87M228.35 477.9H217.85M228.33 497H217.83M228.3 521H217.8M228.27 545.2H217.77M228.23 583.1H217.73M228.16 634.4H217.66M228.05 730.2H217.55M228.03 749.3H217.53M228.01 761.4H217.51M227.99 783.6H217.49M227.96 804.8H217.46M227.93 831.2H217.43M227.89 867.3H217.39M227.82 918.8H217.32M227.71 1015.3H217.21M227.69 1031.6H217.19M227.67 1048.6H217.17M227.65 1066.8H217.15M227.62 1091.4H217.12M227.58 1119H217.08M227.54 1153.8H217.04M227.48 1204.8H216.98" stroke-width="2.5"/>
<path d="M454.3 1273.3V1298.3M759.2 1273.3V1298.3M1062.6 1273.3V1298.3M1366.9 1273.3V1298.3M1671.3 1273.3V1298.3M1975.6 1273.3V1298.3M2282.5 1273.3V1298.3M243.7 1273.3V1284.8M297 1273.3V1284.8M333.5 1273.3V1284.8M362 1273.3V1284.8M387.8 1273.3V1284.8M406.7 1273.3V1284.8M423.8 1273.3V1284.8M440.7 1273.3V1284.8M544.9 1273.3V1284.8M598.5 1273.3V1284.8M635.2 1273.3V1284.8M666 1273.3V1284.8M691.3 1273.3V1284.8M711.2 1273.3V1284.8M730.5 1273.3V1284.8M744.4 1273.3V1284.8M852.2 1273.3V1284.8M905.5 1273.3V1284.8M942 1273.3V1284.8M970 1273.3V1284.8M995.8 1273.3V1284.8M1017.9 1273.3V1284.8M1032.3 1273.3V1284.8M1048.7 1273.3V1284.8M1153.2 1273.3V1284.8M1206.5 1273.3V1284.8M1246.5 1273.3V1284.8M1276.7 1273.3V1284.8M1299.5 1273.3V1284.8M1319.3 1273.3V1284.8M1339 1273.3V1284.8M1353 1273.3V1284.8M1460.6 1273.3V1284.8M1513.5 1273.3V1284.8M1550.5 1273.3V1284.8M1578.5 1273.3V1284.8M1603.6 1273.3V1284.8M1626.2 1273.3V1284.8M1640.3 1273.3V1284.8M1657.2 1273.3V1284.8M1764.1 1273.3V1284.8M1817.8 1273.3V1284.8M1854.2 1273.3V1284.8M1885.7 1273.3V1284.8M1907.8 1273.3V1284.8M1927.4 1273.3V1284.8M1947 1273.3V1284.8M1961.7 1273.3V1284.8M2065.6 1273.3V1284.8M2121.7 1273.3V1284.8M2158.4 1273.3V1284.8M2186.5 1273.3V1284.8M2212 1273.3V1284.8M2231.1 1273.3V1284.8M2251 1273.3V1284.8M2265.9 1273.3V1284.8M2373.1 1273.3V1284.8" stroke-width="2.5"/>
</g>
<defs><clipPath id="k0" clipPathUnits="userSpaceOnUse"><path d="M415.63 1296.2H449V1345.33H415.63ZM431.14 1345.23H436.94V1353.7H431.14ZM447.94 1296.2H480.8V1368.35H447.94Z"/></clipPath><clipPath id="k2" clipPathUnits="userSpaceOnUse"><path d="M725.73 1292.9H759.1V1342.03H725.73ZM741.24 1341.93H747.04V1350.4H741.24ZM758.04 1292.9H790.9V1365.05H758.04Z"/></clipPath><clipPath id="k3" clipPathUnits="userSpaceOnUse"><path d="M792.6 1294.4H806.06V1330.15H792.6ZM804.06 1294.4H821.85V1318.75H804.06ZM812.52 1318.65H815.85V1323.9H812.52Z"/></clipPath><clipPath id="k4" clipPathUnits="userSpaceOnUse"><path d="M1029.88 1292.9H1063.25V1342.03H1029.88ZM1045.39 1341.93H1051.19V1350.4H1045.39ZM1062.19 1292.9H1095.05V1365.05H1062.19Z"/></clipPath><clipPath id="k6" clipPathUnits="userSpaceOnUse"><path d="M1337.63 1298.5H1371V1347.63H1337.63ZM1353.14 1347.53H1358.94V1356H1353.14ZM1369.94 1298.5H1402.8V1370.65H1369.94Z"/></clipPath><clipPath id="k7" clipPathUnits="userSpaceOnUse"><path d="M1402.8 1299.3H1420.59V1323.65H1402.8ZM1411.27 1323.55H1414.6V1328.8H1411.27Z"/></clipPath><clipPath id="k8" clipPathUnits="userSpaceOnUse"><path d="M1632.88 1296.2H1666.25V1345.33H1632.88ZM1648.39 1345.23H1654.19V1353.7H1648.39ZM1665.19 1296.2H1698.05V1368.35H1665.19Z"/></clipPath><clipPath id="k10" clipPathUnits="userSpaceOnUse"><path d="M1943.33 1298.1H1976.7V1347.23H1943.33ZM1958.84 1347.13H1964.64V1355.6H1958.84ZM1975.64 1298.1H2008.5V1370.25H1975.64Z"/></clipPath><clipPath id="k12" clipPathUnits="userSpaceOnUse"><path d="M2245.93 1296.7H2279.3V1345.83H2245.93ZM2261.44 1345.73H2267.24V1354.2H2261.44ZM2278.24 1296.7H2311.1V1368.85H2278.24Z"/></clipPath><clipPath id="k14" clipPathUnits="userSpaceOnUse"><path d="M122.03 122.4H155.4V171.53H122.03ZM137.54 171.43H143.34V179.9H137.54ZM154.34 122.4H187.2V194.55H154.34Z"/></clipPath><clipPath id="k16" clipPathUnits="userSpaceOnUse"><path d="M129.58 401.5H162.95V450.63H129.58ZM145.09 450.53H150.89V459H145.09ZM161.89 401.5H194.75V473.65H161.89Z"/></clipPath><clipPath id="k18" clipPathUnits="userSpaceOnUse"><path d="M124.63 682.5H158V731.63H124.63ZM140.14 731.53H145.94V740H140.14ZM156.94 682.5H189.8V754.65H156.94Z"/></clipPath><clipPath id="k20" clipPathUnits="userSpaceOnUse"><path d="M126.43 973.1H159.8V1022.23H126.43ZM141.94 1022.13H147.74V1030.6H141.94ZM158.74 973.1H191.6V1045.25H158.74Z"/></clipPath><clipPath id="k21" clipPathUnits="userSpaceOnUse"><path d="M191.9 974.7H209.69V999.05H191.9ZM200.37 998.95H203.7V1004.2H200.37Z"/></clipPath></defs>
<g fill="#231815" font-family="'Liberation Sans', Arial, Helvetica, sans-serif">
<text x="417.63 448.94" y="1351.7" font-size="55.5" clip-path="url(#k0)">10</text>
<text x="483.1" y="1325.6" font-size="27.5" letter-spacing="1.5">-2</text>
<text x="727.73 759.04" y="1348.4" font-size="55.5" clip-path="url(#k2)">10</text>
<text x="793.6" y="1321.9" font-size="27.5" letter-spacing="3.3" clip-path="url(#k3)">-1</text>
<text x="1031.88 1063.19" y="1348.4" font-size="55.5" clip-path="url(#k4)">10</text>
<text x="1098.1" y="1321.9" font-size="27.5" letter-spacing="1.5">0</text>
<text x="1339.63 1370.94" y="1354" font-size="55.5" clip-path="url(#k6)">10</text>
<text x="1404.8" y="1326.8" font-size="27.5" letter-spacing="1.5" clip-path="url(#k7)">1</text>
<text x="1634.88 1666.19" y="1351.7" font-size="55.5" clip-path="url(#k8)">10</text>
<text x="1700.3" y="1325.6" font-size="27.5" letter-spacing="1.5">2</text>
<text x="1945.33 1976.64" y="1353.6" font-size="55.5" clip-path="url(#k10)">10</text>
<text x="2011.3" y="1327.6" font-size="27.5" letter-spacing="1.5">3</text>
<text x="2247.93 2279.24" y="1352.2" font-size="55.5" clip-path="url(#k12)">10</text>
<text x="2313.5" y="1325.6" font-size="27.5" letter-spacing="1.5">4</text>
<text x="124.03 155.34" y="177.9" font-size="55.5" clip-path="url(#k14)">10</text>
<text x="189.4" y="151.3" font-size="27.5" letter-spacing="1.5">4</text>
<text x="131.58 162.89" y="457" font-size="55.5" clip-path="url(#k16)">10</text>
<text x="198.8" y="431.2" font-size="27.5" letter-spacing="1.5">3</text>
<text x="126.63 157.94" y="738" font-size="55.5" clip-path="url(#k18)">10</text>
<text x="192.9" y="712.3" font-size="27.5" letter-spacing="1.5">2</text>
<text x="128.43 159.74" y="1028.6" font-size="55.5" clip-path="url(#k20)">10</text>
<text x="193.9" y="1002.2" font-size="27.5" letter-spacing="1.5" clip-path="url(#k21)">1</text>
<text x="106.8 155.0 192.4 215.1 269.5 306.6 323.0 341.3 375.7 412.3 449.4 468.7 503.0 537.8 570.1 587.8 624.9 662.3 682.5 719.7 756.5 776.1 792.9 831.5 847.4 867.5 905.9 940.3 956.9" y="1070.8" font-size="63.5" transform="rotate(-90 106.8 1070.8)">Normalized gas potential[psi]</text>
<text x="1108.5 1150.9 1168.5 1225 1264.4 1285.25 1324.4 1350.1" y="1413" font-size="63.5">Time[hr]</text>
<text x="1676.5" y="156" font-size="61" letter-spacing="5.4">pressure</text>
<text x="1680" y="245" font-size="61" letter-spacing="5.4">pressure<tspan dx="-9.9" letter-spacing="4.85"> derivative</tspan></text>
</g>
<path d="M1517.7 140.6H1648.9" stroke="#009944" stroke-width="6" fill="none"/>
<path d="M1517.7 233.6H1648.9" stroke="#ff0000" stroke-width="6" fill="none"/>
</svg>
</body>
</html>
